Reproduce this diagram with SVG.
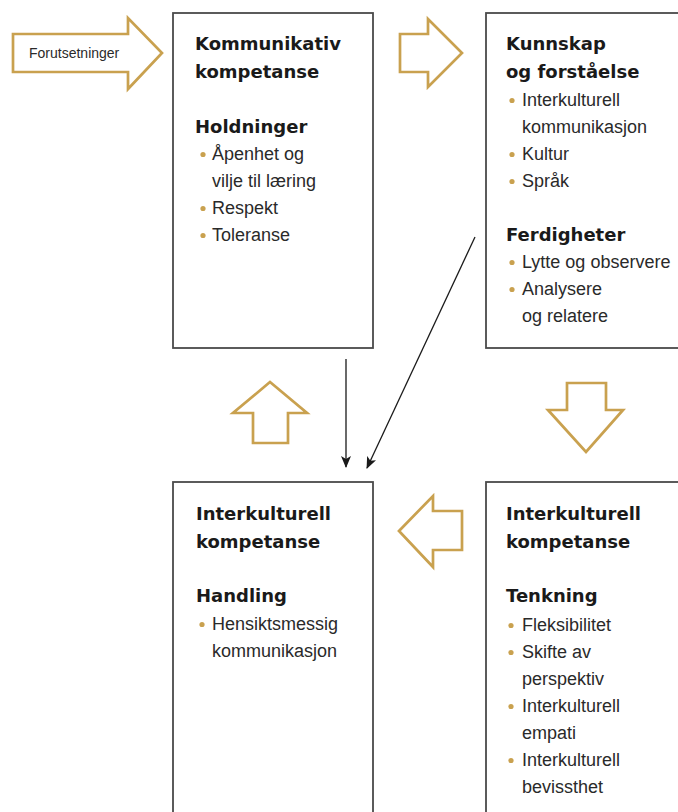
<svg xmlns="http://www.w3.org/2000/svg" width="678" height="812" viewBox="0 0 678 812">
<defs>
<style>
.box{fill:#fff;stroke:#4a4a4a;stroke-width:1.8}
.garrow{fill:#fff;stroke:#C9A14F;stroke-width:2.7;stroke-linejoin:miter}
.t{font-family:"DejaVu Sans",sans-serif;font-weight:bold;font-size:18px;fill:#1a1a1a}
.b{font-family:"Liberation Sans",Arial,sans-serif;font-size:18px;fill:#2a2a2a}
.s{font-family:"Liberation Sans",Arial,sans-serif;font-size:14px;fill:#2a2a2a}
.dot{fill:#C9A14F}
.con{stroke:#1a1a1a;stroke-width:1.3;fill:none}
</style>
<marker id="ah" viewBox="0 0 12 10" refX="11" refY="5" markerWidth="12" markerHeight="10" markerUnits="userSpaceOnUse" orient="auto">
<path d="M0,0 L12,5 L0,10 L3,5 Z" fill="#1a1a1a"/>
</marker>
</defs>
<rect width="678" height="812" fill="#fff"/>

<g id="forutsetninger">
<path class="garrow" d="M13,34 L128,34 L128,18 L162,53 L128,89 L128,72 L13,72 Z"/>
<text class="s" x="29" y="58">Forutsetninger</text>
</g>

<g id="kommunikativ">
<rect class="box" x="173" y="13" width="200" height="335"/>
<text class="t" x="195" y="50">Kommunikativ</text>
<text class="t" x="195" y="78">kompetanse</text>
<text class="t" x="195" y="133">Holdninger</text>
<circle class="dot" cx="203" cy="154.5" r="2.6"/>
<text class="b" x="212" y="160">Åpenhet og</text>
<text class="b" x="212" y="187">vilje til læring</text>
<circle class="dot" cx="203" cy="208.5" r="2.6"/>
<text class="b" x="212" y="214">Respekt</text>
<circle class="dot" cx="203" cy="235.5" r="2.6"/>
<text class="b" x="212" y="241">Toleranse</text>
</g>

<g id="kunnskap">
<rect class="box" x="486" y="13" width="220" height="335"/>
<text class="t" x="506" y="50">Kunnskap</text>
<text class="t" x="506" y="78">og forståelse</text>
<circle class="dot" cx="512" cy="100.5" r="2.6"/>
<text class="b" x="522" y="106">Interkulturell</text>
<text class="b" x="522" y="133">kommunikasjon</text>
<circle class="dot" cx="512" cy="154.5" r="2.6"/>
<text class="b" x="522" y="160">Kultur</text>
<circle class="dot" cx="512" cy="181.5" r="2.6"/>
<text class="b" x="522" y="187">Språk</text>
<text class="t" x="506" y="241">Ferdigheter</text>
<circle class="dot" cx="512" cy="262.5" r="2.6"/>
<text class="b" x="522" y="268">Lytte og observere</text>
<circle class="dot" cx="512" cy="289.5" r="2.6"/>
<text class="b" x="522" y="295">Analysere</text>
<text class="b" x="522" y="322">og relatere</text>
</g>

<g id="handling">
<rect class="box" x="173" y="482" width="200" height="360"/>
<text class="t" x="196" y="520">Interkulturell</text>
<text class="t" x="196" y="548">kompetanse</text>
<text class="t" x="196" y="602">Handling</text>
<circle class="dot" cx="202" cy="624.5" r="2.6"/>
<text class="b" x="212" y="630">Hensiktsmessig</text>
<text class="b" x="212" y="657">kommunikasjon</text>
</g>

<g id="tenkning">
<rect class="box" x="486" y="482" width="220" height="360"/>
<text class="t" x="506" y="520">Interkulturell</text>
<text class="t" x="506" y="548">kompetanse</text>
<text class="t" x="506" y="602">Tenkning</text>
<circle class="dot" cx="511" cy="625.5" r="2.6"/>
<text class="b" x="522" y="631">Fleksibilitet</text>
<circle class="dot" cx="511" cy="652.5" r="2.6"/>
<text class="b" x="522" y="658">Skifte av</text>
<text class="b" x="522" y="685">perspektiv</text>
<circle class="dot" cx="511" cy="706.5" r="2.6"/>
<text class="b" x="522" y="712">Interkulturell</text>
<text class="b" x="522" y="739">empati</text>
<circle class="dot" cx="511" cy="760.5" r="2.6"/>
<text class="b" x="522" y="766">Interkulturell</text>
<text class="b" x="522" y="793">bevissthet</text>
</g>

<g id="flow-arrows">
<path class="garrow" d="M400,34 L428,34 L428,19 L462,53 L428,87 L428,72 L400,72 Z"/>
<path class="garrow" d="M567,383 L606,383 L606,410 L623,410 L586,452 L548,410 L567,410 Z"/>
<path class="garrow" d="M399,531 L433,496 L433,511 L462,511 L462,550 L433,550 L433,567 Z"/>
<path class="garrow" d="M270,382 L307,413 L288,413 L288,443 L253,443 L253,413 L233,413 Z"/>
</g>

<g id="connectors">
<line class="con" x1="346" y1="359" x2="346" y2="467" marker-end="url(#ah)"/>
<line class="con" x1="475" y1="237" x2="367" y2="468" marker-end="url(#ah)"/>
</g>
</svg>
